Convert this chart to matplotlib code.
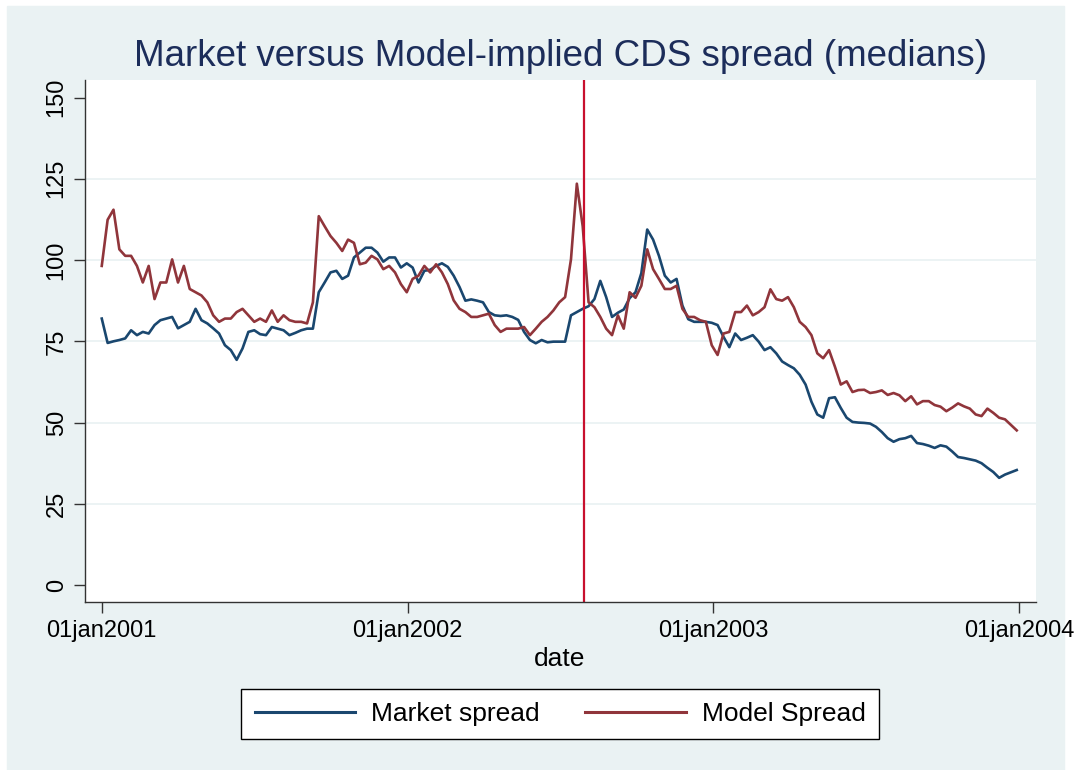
import matplotlib
matplotlib.use("Agg")
import matplotlib.pyplot as plt
import matplotlib.dates as mdates
from matplotlib.lines import Line2D
from matplotlib.patches import Rectangle
import pandas as pd

plt.rcParams['font.family'] = ['Liberation Sans', 'DejaVu Sans']

# weekly medians, starting 01jan2001
dates = pd.date_range('2001-01-01', periods=157, freq='7D')

market_spread = [
    82, 74.5, 75, 75.4, 75.9, 78.4, 76.9, 77.9, 77.4, 80,
    81.5, 82, 82.5, 79, 80, 81, 85, 81.5, 80.5, 79,
    77.4, 73.8, 72.3, 69.3, 72.8, 77.9, 78.4, 77.2, 76.9, 79.4,
    78.9, 78.4, 76.9, 77.6, 78.4, 78.9, 78.9, 90.1, 93.1, 96.2,
    96.7, 94.2, 95.2, 100.8, 102.3, 103.8, 103.8, 102.3, 99.5, 100.8,
    100.8, 97.7, 99, 97.7, 93.1, 96.7, 97, 98.2, 99, 97.9,
    95.2, 91.7, 87.5, 87.9, 87.5, 87, 84, 83, 82.8, 83,
    82.5, 81.6, 77.9, 75.4, 74.4, 75.4, 74.7, 74.9, 74.9, 74.9,
    83, 84, 85, 85.8, 88, 93.6, 88.6, 82.5, 83.8, 84.8,
    88.3, 90.1, 96, 109.4, 106.3, 101.3, 95.2, 93.1, 94.2, 86,
    81.8, 81, 81, 81, 80.7, 80, 76.4, 73.2, 77.4, 75.4,
    76.1, 76.9, 74.9, 72.3, 73.2, 71.3, 68.8, 67.7, 66.7, 64.7,
    61.7, 56.4, 52.5, 51.5, 57.5, 57.8, 54.5, 51.5, 50.2, 50,
    49.9, 49.7, 48.7, 47.1, 45.2, 44.1, 44.9, 45.2, 45.9, 43.7,
    43.4, 42.9, 42.2, 43, 42.6, 41.1, 39.4, 39.1, 38.7, 38.3,
    37.5, 36.1, 34.8, 33, 34, 34.7, 35.4,
]

model_spread = [
    98.2, 112.4, 115.5, 103.3, 101.3, 101.3, 98.2, 93.1, 98.2, 88,
    93.1, 93.1, 100.2, 93.1, 98.2, 91.1, 90.1, 89.1, 87, 83,
    81, 82, 82, 84, 85, 83, 81, 82, 81, 84.5,
    81, 83, 81.5, 81, 81, 80.5, 87, 113.5, 110.4, 107.4,
    105.3, 102.8, 106.3, 105.3, 98.7, 99.2, 101.3, 100.2, 97.2, 98.2,
    96.2, 92.6, 90.1, 94.2, 95.2, 98.2, 96.2, 98.7, 96.2, 92.6,
    87.6, 85, 84, 82.5, 82.5, 83, 83.5, 80, 77.9, 78.9,
    78.9, 78.9, 79.4, 76.9, 78.9, 81, 82.5, 84.5, 87, 88.6,
    100.2, 123.5, 110.4, 87, 85.5, 82.5, 78.9, 76.9, 83, 78.9,
    90.1, 88.4, 92.1, 103.3, 97.2, 94.2, 91.1, 91.1, 92.1, 85,
    82.5, 82.5, 81.5, 81, 73.8, 70.8, 77.4, 77.9, 84, 84,
    86, 83, 84, 85.5, 91, 88, 87.5, 88.6, 85.5, 81,
    79.4, 76.9, 71.3, 69.8, 72.3, 67.2, 61.7, 62.7, 59.4, 60,
    60.1, 59.1, 59.4, 59.9, 58.5, 59.1, 58.4, 56.6, 58.1, 55.6,
    56.6, 56.6, 55.4, 54.9, 53.5, 54.6, 55.9, 55, 54.3, 52.5,
    52, 54.3, 53, 51.5, 51, 49.3, 47.6,
]

y_ticks = [0, 25, 50, 75, 100, 125, 150]
x_ticks = ['2001-01-01', '2002-01-01', '2003-01-01', '2004-01-01']
x_labels = ['01jan2001', '01jan2002', '01jan2003', '01jan2004']
event_date = '2002-07-30'

market_color = '#1A476F'
model_color = '#90353B'

W, H = 1089, 770
fig = plt.figure(figsize=(W / 100, H / 100), dpi=100, facecolor='white')
fig.patches.append(Rectangle((7 / W, 0), (1064 - 7) / W, (H - 6) / H,
                             transform=fig.transFigure, color='#EAF2F3', zorder=-10))

ax = fig.add_axes([85 / W, 1 - 602 / H, (1036 - 85) / W, (602 - 80) / H])
ax.set_facecolor('white')

ax.plot(dates, market_spread, color=market_color, lw=1.9)
ax.plot(dates, model_spread, color=model_color, lw=1.9)
ax.axvline(pd.Timestamp(event_date), color='#C8102E', lw=1.6)

start = mdates.date2num(pd.Timestamp('2001-01-01'))
ax.set_xlim(start - 20, start + 1115)
ax.set_ylim(-5.2, 155.4)

ax.set_yticks(y_ticks)
ax.set_xticks([pd.Timestamp(d) for d in x_ticks])
ax.set_xticklabels(x_labels)
plt.setp(ax.get_yticklabels(), rotation=90, va='center')

ax.grid(axis='y', color='#EAF2F3', lw=1.3)
ax.set_axisbelow(True)
gl = ax.yaxis.get_gridlines()
gl[0].set_visible(False)
gl[-1].set_visible(False)

for s in ['top', 'right']:
    ax.spines[s].set_visible(False)
for s in ['left', 'bottom']:
    ax.spines[s].set_color('#333333')
    ax.spines[s].set_linewidth(1)
ax.tick_params(axis='both', direction='out', length=8, width=1, color='#333333',
               labelsize=17, labelcolor='black')
ax.tick_params(axis='y', pad=4.5)
ax.tick_params(axis='x', pad=5)

fig.text(560 / W, 1 - 57 / H, 'Market versus Model-implied CDS spread (medians)',
         ha='center', va='center', fontsize=26.5, color='#1c2d5a')
fig.text(560 / W, 1 - 659 / H, 'date', ha='center', va='center', fontsize=19)

handles = [Line2D([], [], color=market_color, lw=2.2),
           Line2D([], [], color=model_color, lw=2.2)]
leg = fig.legend(handles, ['Market spread', 'Model Spread'], loc='center',
                 bbox_to_anchor=(560 / W, 1 - 714 / H), ncol=2, fontsize=19,
                 frameon=True, fancybox=False, edgecolor='black', framealpha=1,
                 handlelength=3.8, handletextpad=0.6, columnspacing=1.75,
                 borderpad=0.5)
leg.get_frame().set_linewidth(1)

fig.savefig('out.png', dpi=100, facecolor=fig.get_facecolor())
